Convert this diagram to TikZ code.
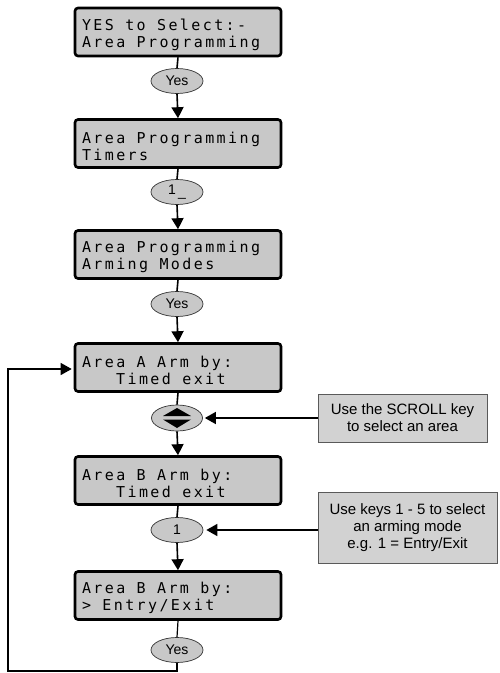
\documentclass[tikz,border=0pt]{standalone}
\usepackage{fontspec}
\setmainfont{Liberation Sans}
\newfontfamily\lcdfont[LetterSpace=16]{DejaVu Sans Mono}
\usetikzlibrary{arrows.meta,shapes.geometric,calc}
\definecolor{lcdgray}{HTML}{C8C8C8}
\definecolor{notegray}{HTML}{D2D2D2}
\definecolor{noteline}{HTML}{5A5A5A}
\newcommand{\lcdstrut}{\rule{0pt}{17pt}}
\newcommand{\lsp}{\hspace*{11.4pt}}
\tikzset{
  lcd/.style={draw=black, line width=2.6pt, rounded corners=3pt, fill=lcdgray,
    minimum width=206pt, minimum height=48pt, text width=192pt, align=left,
    inner sep=0pt, font={\lcdfont\fontsize{15pt}{17pt}\selectfont}},
  keyov/.style={ellipse, draw=black!80, line width=0.7pt, fill=lcdgray,
    minimum width=52pt, minimum height=25pt, inner sep=0pt,
    font=\fontsize{14pt}{16pt}\selectfont},
  note/.style={draw=noteline, line width=0.8pt, fill=notegray, align=center,
    inner sep=0pt, font=\fontsize{15pt}{17pt}\selectfont},
  conn/.style={line width=1.6pt},
  arr/.style={line width=1.6pt, -{Triangle[length=11pt,width=12pt]}},
}
\begin{document}
\begin{tikzpicture}[x=1pt,y=-1pt]
\useasboundingbox (0,0) rectangle (499,673);
% LCD boxes
\node[lcd] (b1) at (178,32) {\lcdstrut YES\lsp to\lsp Select:-\\Area\lsp Programming};
\node[lcd] (b2) at (178,143.5) {\lcdstrut Area\lsp Programming\\Timers};
\node[lcd] (b3) at (178,254.5) {\lcdstrut Area\lsp Programming\\Arming\lsp Modes};
\node[lcd] (b4) at (178,367.5) {\lcdstrut Area\lsp A\lsp Arm\lsp by:\\\lsp\lsp\lsp Timed\lsp exit};
\node[lcd] (b5) at (178,480.5) {\lcdstrut Area\lsp B\lsp Arm\lsp by:\\\lsp\lsp\lsp Timed\lsp exit};
\node[lcd] (b6) at (178,595.5) {\lcdstrut Area\lsp B\lsp Arm\lsp by:\\>\lsp Entry/Exit};
% keys
\node[keyov] (e1) at (177,81) {Yes};
\node[keyov] (e2) at (177,192) {1\,\raisebox{-1.5pt}{\_}};
\node[keyov] (e3) at (177,304) {Yes};
\node[keyov, minimum width=51pt, minimum height=26pt] (e4) at (177,418) {};
\fill ($(e4.center)+(-14,-2)$) -- ($(e4.center)+(14,-2)$) -- ($(e4.center)+(0,-10)$) -- cycle;
\fill ($(e4.center)+(-14,1.5)$) -- ($(e4.center)+(14,1.5)$) -- ($(e4.center)+(0,10)$) -- cycle;
\node[keyov] (e5) at (177,530) {1};
\node[keyov] (e6) at (177,650) {Yes};
% notes
\node[note, minimum width=169pt, minimum height=48pt] (n1) at (402.5,418)
  {Use the SCROLL key\\to select an area};
\node[note, minimum width=179pt, minimum height=71pt] (n2) at (407.5,527.5)
  {Use keys 1 - 5 to select\\an arming mode\\e.g. 1 = Entry/Exit};
% connectors
\draw[conn] (b1.south) -- (e1.north);
\draw[arr] (e1.south) -- (b2.north);
\draw[conn] (b2.south) -- (e2.north);
\draw[arr] (e2.south) -- (b3.north);
\draw[conn] (b3.south) -- (e3.north);
\draw[arr] (e3.south) -- (b4.north);
\draw[conn] (b4.south) -- (e4.north);
\draw[arr] (e4.south) -- (b5.north);
\draw[conn] (b5.south) -- (e5.north);
\draw[arr] (e5.south) -- (b6.north);
\draw[conn, line width=1.2pt] (b6.south) -- (e6.north);
\coordinate (c1) at (177,671);
\coordinate (c2) at (8,671);
\coordinate (c3) at (8,369);
\draw[arr, line width=1.2pt] (e6.south) -- (c1) -- (c2) -- (c3) -- ($(c3 -| b4.west)+(-2,0)$);
\draw[arr] (n1.west) -- ($(e4.east)+(2,0)$);
\draw[arr] (n2.west |- e5.east) -- ($(e5.east)+(3,0)$);
\end{tikzpicture}
\end{document}
